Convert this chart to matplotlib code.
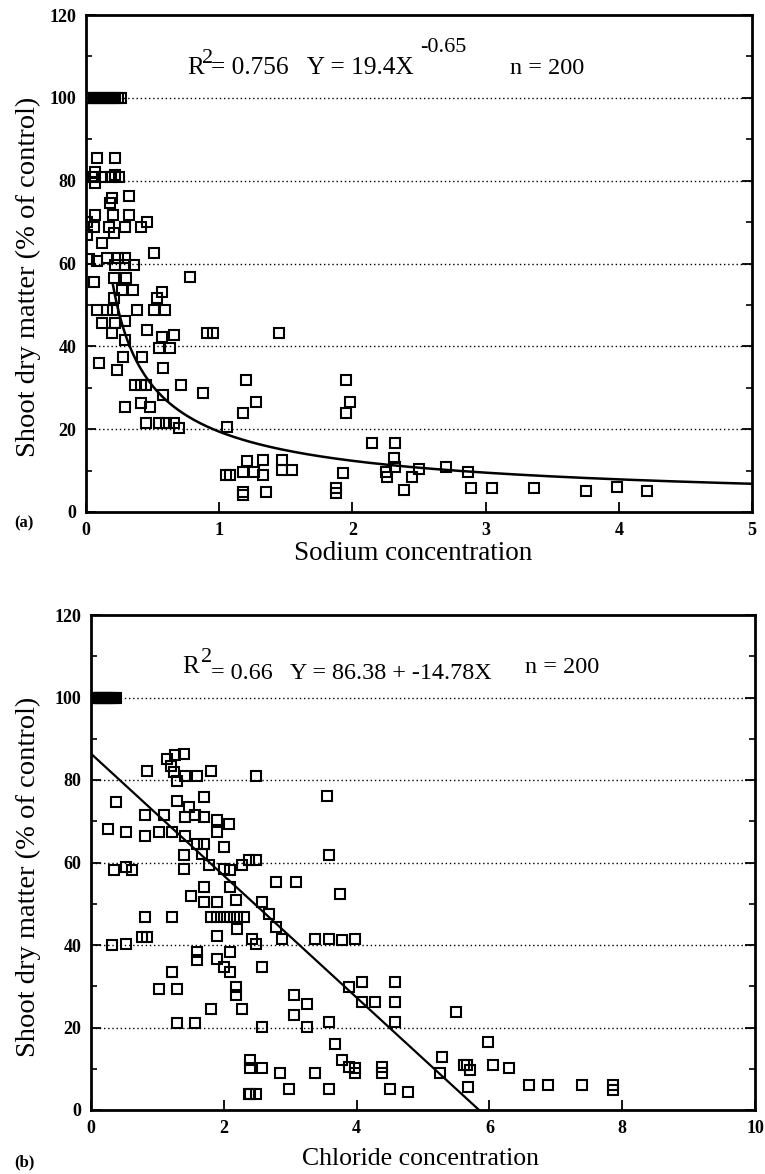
import numpy as np
import matplotlib
matplotlib.use('Agg')
import matplotlib.pyplot as plt

plt.rcParams['font.family'] = ['Liberation Serif', 'DejaVu Serif']

# (a) sodium concentration vs shoot dry matter
na_x = [0.0, 0.02, 0.04, 0.06, 0.08, 0.1, 0.12, 0.14, 0.16, 0.18, 0.2, 0.22, 0.24, 0.26,
        0.08, 0.22, 0.07, 0.22, 0.05, 0.12, 0.19, 0.25, 0.07, 0.195, 0.32, 0.18,
        0.07, 0.2, 0.32, 0.46, 0.06, 0.17, 0.29, 0.41, 0.21, 0.12, 0.01, 0.01, 0.02,
        0.08, 0.16, 0.24, 0.29, 0.22, 0.29, 0.36, 0.51, 0.78, 0.06, 0.21, 0.3,
        0.27, 0.35, 0.57, 0.21, 0.53, 0.08, 0.16, 0.2, 0.38, 0.51, 0.59, 0.12, 0.22,
        0.295, 0.46, 0.195, 0.295, 0.57, 0.66, 0.55, 0.63, 0.91, 0.95, 1.45,
        0.095, 0.28, 0.23, 0.42, 0.58, 0.37, 0.41, 0.45, 0.71, 0.58, 0.88,
        1.2, 1.28, 1.18, 1.95, 1.98, 1.95, 0.295, 0.41, 0.48, 0.45, 0.55, 0.6, 0.66,
        0.7, 1.06, 2.15, 2.32, 2.31, 1.05, 1.08, 1.21, 1.18, 1.26, 1.33, 1.33, 1.47,
        1.47, 1.55, 1.18, 1.18, 1.35, 1.93, 1.88, 1.88, 2.25, 2.26, 2.32, 2.5, 2.45,
        2.39, 2.7, 2.87, 2.89, 3.05, 3.36, 3.75, 3.99, 4.21]
na_y = [100, 100, 100, 100, 100, 100, 100, 100, 100, 100, 100, 100, 100, 100,
        85.4, 85.4, 82.2, 81.4, 81, 81, 81, 81, 79.4, 75.8, 76.2, 74.6,
        71.7, 71.7, 71.7, 70.1, 68.8, 68.8, 68.8, 68.8, 67.4, 65, 70, 67, 61,
        60.5, 61.4, 61.4, 61.4, 59.7, 59.7, 59.7, 62.6, 56.8, 55.6, 56.6, 56.6,
        53.6, 53.6, 53.2, 51.7, 51.7, 48.8, 48.8, 48.8, 48.8, 48.8, 48.8, 45.6, 45.6,
        46, 44, 43.2, 41.5, 42.3, 42.8, 39.5, 39.5, 43.2, 43.2, 43.2,
        35.9, 37.5, 34.3, 37.5, 34.7, 30.7, 30.7, 30.7, 30.7, 28.3, 28.7,
        31.9, 26.6, 23.8, 31.9, 26.6, 23.8, 25.4, 26.3, 25.4, 21.4, 21.4, 21.4, 21.4,
        20.2, 20.6, 16.6, 16.6, 13, 8.9, 8.9, 12.2, 9.7, 9.7, 12.6, 8.9, 12.6,
        10.1, 10.1, 4.9, 4.1, 4.9, 9.3, 5.7, 4.5, 9.7, 8.5, 10.9, 10.5, 8.5,
        5.3, 10.9, 9.7, 5.7, 5.8, 5.8, 5.1, 6.0, 5.1]

# (b) chloride concentration vs shoot dry matter
cl_x = [0.02, 0.05, 0.08, 0.11, 0.14, 0.17, 0.2, 0.23, 0.26, 0.29, 0.32, 0.35, 0.38,
        1.15, 1.4, 1.2, 1.27, 0.85, 1.25, 1.3, 1.42, 1.6, 1.8, 2.48,
        0.37, 1.3, 1.7, 3.55, 0.82, 1.1, 1.42, 1.57, 1.7, 1.9, 2.08, 1.47,
        0.25, 0.52, 0.82, 1.02, 1.22, 1.42, 1.9, 1.6, 1.7, 2.0, 3.58,
        1.4, 1.4, 1.67, 1.77, 2.0, 2.1, 2.28, 2.38, 2.48, 0.35, 0.52, 0.62,
        2.78, 3.08, 2.1, 3.75, 1.5, 1.7, 1.7, 1.9, 2.18, 2.58, 2.68, 2.78,
        0.82, 1.22, 1.8, 1.9, 2.0, 2.1, 2.2, 2.3, 2.2,
        0.77, 0.85, 0.32, 0.52, 1.9, 2.43, 2.48, 2.88, 3.38, 3.58, 3.78, 3.98,
        1.6, 1.6, 1.9, 2.1, 2.0, 2.1, 2.58, 1.22,
        1.02, 1.3, 2.18, 2.18, 1.8, 2.28, 3.05, 3.25, 3.05, 3.25, 3.58,
        3.88, 4.08, 4.58, 4.08, 4.28, 4.58, 4.58,
        1.3, 1.57, 2.58, 3.68,
        2.4, 2.4, 2.58, 2.85, 3.38, 3.78, 3.88, 3.98, 3.98, 4.38, 4.38,
        2.38, 2.4, 2.48, 2.98, 3.58, 4.5, 4.78,
        5.49, 5.29, 5.26, 5.61, 5.67, 5.71, 5.68, 5.98, 6.06, 6.29,
        6.59, 6.89, 7.4, 7.86, 7.86]
cl_y = [100, 100, 100, 100, 100, 100, 100, 100, 100, 100, 100, 100, 100,
        85, 86.3, 83.5, 86, 82.3, 81.9, 79.8, 81, 81, 82.3, 81,
        74.6, 75, 75.8, 76.2, 71.4, 71.4, 71, 71.4, 71, 70.2, 69.4, 73.4,
        68.1, 67.3, 66.5, 67.3, 67.3, 66.5, 67.3, 64.5, 64.5, 63.7, 61.7,
        61.7, 58.5, 62.1, 59.3, 58.5, 58.1, 59.3, 60.5, 60.5, 58.1, 58.9, 58.1,
        55.2, 55.2, 54, 52.4, 52, 54, 50.4, 50.4, 50.8, 50.4, 47.6, 44.4,
        46.8, 46.8, 46.8, 46.8, 46.8, 46.8, 46.8, 46.8, 44,
        41.9, 41.9, 39.9, 40.3, 42.3, 41.5, 40.3, 41.5, 41.5, 41.5, 41.1, 41.5,
        38.3, 36.3, 36.7, 38.3, 34.7, 33.5, 34.7, 33.5,
        29.4, 29.4, 29.8, 27.8, 24.6, 24.6, 27.8, 25.8, 23, 20.2, 21.4,
        29.8, 31, 31, 26.2, 26.2, 26.2, 21.4,
        21, 21, 20.2, 16.1,
        12.1, 10.1, 10.1, 8.9, 8.9, 12.1, 10.5, 10.1, 8.9, 10.5, 8.9,
        4, 4, 4, 5.2, 5.2, 5.2, 4.4,
        23.7, 12.8, 9, 10.9, 10.9, 9.7, 5.6, 16.5, 10.9, 10.2,
        6, 6, 6, 6, 4.8]

W, H = 765, 1174
fig = plt.figure(figsize=(W / 100, H / 100), dpi=100)


def axes_px(left, top, right, bottom):
    return fig.add_axes([left / W, 1 - bottom / H, (right - left) / W, (bottom - top) / H])


def style(ax, xmax, xstep):
    ax.set_ylim(0, 120)
    ax.set_xlim(0, xmax)
    ax.set_yticks(np.arange(0, 121, 20))
    ax.set_yticks(np.arange(10, 120, 20), minor=True)
    ax.set_xticks(np.arange(0, xmax + 0.01, xstep))
    ax.tick_params(direction='in', length=7, width=1.3, labelsize=13, pad=7,
                   right=True, top=False)
    ax.tick_params(which='minor', direction='in', length=4, width=1.2, right=True)
    for lab in ax.get_xticklabels() + ax.get_yticklabels():
        lab.set_fontweight('bold')
    for sp in ax.spines.values():
        sp.set_linewidth(2)
    for v in range(20, 101, 20):
        ax.axhline(v, color='black', linestyle=(0, (1, 2)), linewidth=1.0, zorder=0)


mk = dict(marker='s', markersize=7, markerfacecolor='none', markeredgecolor='black',
          markeredgewidth=1.5, linestyle='none')

# panel (a)
ax1 = axes_px(86, 15, 752, 512)
style(ax1, 5, 1)
ax1.plot(na_x, na_y, **mk)
xs = np.linspace(0.2, 5, 300)
ax1.plot(xs, 19.4 * xs ** -0.65, color='black', linewidth=1.8)
tr = ax1.transAxes
ax1.text(0.1517, 0.882, 'R', fontsize=18, transform=tr)
ax1.text(0.1745, 0.903, '2', fontsize=16, transform=tr)
ax1.text(0.1877, 0.882, '= 0.756   Y = 19.4X', fontsize=18.3, transform=tr)
ax1.text(0.502, 0.925, '-0.65', fontsize=16, transform=tr)
ax1.text(0.637, 0.882, 'n = 200', fontsize=17.5, transform=tr)

# panel (b)
ax2 = axes_px(91, 615, 755, 1110)
style(ax2, 10, 2)
ax2.plot(cl_x, cl_y, **mk)
xs2 = np.linspace(0, 86.38 / 14.78, 50)
ax2.plot(xs2, 86.38 - 14.78 * xs2, color='black', linewidth=1.6)
tr2 = ax2.transAxes
ax2.text(0.137, 0.882, 'R', fontsize=18, transform=tr2)
ax2.text(0.166, 0.905, '2', fontsize=16, transform=tr2)
ax2.text(0.181, 0.870, '= 0.66   Y = 86.38 + -14.78X', fontsize=17.4, transform=tr2)
ax2.text(0.653, 0.882, 'n = 200', fontsize=17.5, transform=tr2)

# labels
fig.text(413 / W, 1 - 560 / H, 'Sodium concentration', fontsize=19.5, ha='center', va='baseline')
fig.text(420 / W, 1 - 1165 / H, 'Chloride concentration', fontsize=18.5, ha='center', va='baseline')
fig.text(28 / W, 1 - 277 / H, 'Shoot dry matter (% of control)', fontsize=20.5,
         rotation=90, ha='center', va='center')
fig.text(28 / W, 1 - 877 / H, 'Shoot dry matter (% of control)', fontsize=20.5,
         rotation=90, ha='center', va='center')
fig.text(14 / W, 1 - 527 / H, '(a)', fontsize=12, fontweight='bold')
fig.text(14 / W, 1 - 1166 / H, '(b)', fontsize=12, fontweight='bold')

fig.savefig('out.png', dpi=100)
